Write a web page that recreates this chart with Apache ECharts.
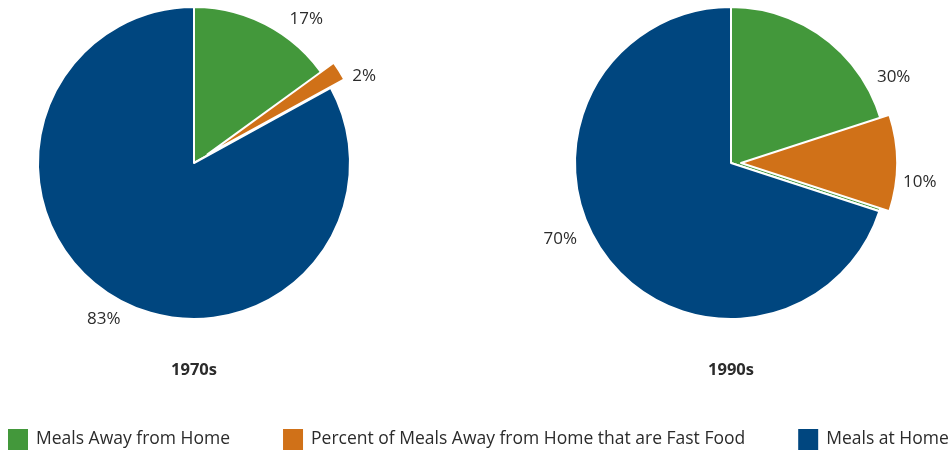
<!DOCTYPE html>
<html>
<head>
<meta charset="utf-8">
<script src="https://cdn.jsdelivr.net/npm/echarts@6/dist/echarts.min.js"></script>
<style>
html, body { margin: 0; padding: 0; background: #fff; }
#chart { width: 951px; height: 451px; }
</style>
</head>
<body>
<div id="chart"></div>
<script>
var decades = ['1970s', '1990s'];
var seriesNames = ['Meals Away from Home', 'Percent of Meals Away from Home that are Fast Food', 'Meals at Home'];
var awayFromHome = [17, 30];
var fastFood = [2, 10];
var atHome = [83, 70];

var colors = ['#43983b', '#d07118', '#00467f'];
var font = '"Open Sans", sans-serif';

// small label nudges (by data index) so the text sits where the original put it
var mainShift = [
    [[-1, 1], [23, 12]],
    [[-1, 13], [-7, -23]]
];
var fastShift = [[-8, 12], [-17, 19]];

function nudge(shifts) {
    return function (params) {
        var d = shifts[params.dataIndex] || [0, 0];
        return { dx: d[0], dy: d[1] };
    };
}

function buildOption() {
    var centersX = [194, 731];
    var offsets = [16, 10];
    var cy = 163;
    var r = 156;
    var series = [];
    var titles = [];

    var baseLabel = {
        show: true,
        position: 'outside',
        formatter: '{c}%',
        color: '#2b2b2b',
        fontSize: 17,
        fontFamily: font,
        overflow: 'none'
    };
    var hidden = { color: 'transparent', borderWidth: 0 };

    decades.forEach(function (d, i) {
        series.push({
            type: 'pie',
            name: d,
            center: [centersX[i], cy],
            radius: r,
            startAngle: 90,
            silent: true,
            animation: false,
            itemStyle: { borderColor: '#fff', borderWidth: 2 },
            label: baseLabel,
            labelLine: { show: false, length: 12, length2: 6 },
            labelLayout: nudge(mainShift[i]),
            data: [
                { name: seriesNames[0], value: awayFromHome[i], itemStyle: { color: colors[0] } },
                { name: seriesNames[2], value: atHome[i], itemStyle: { color: colors[2] } }
            ]
        });
        // fast food share sits on top of the green slice, pulled out
        series.push({
            type: 'pie',
            name: d + ' fast food',
            center: [centersX[i], cy],
            radius: r,
            startAngle: 90,
            silent: true,
            animation: false,
            selectedMode: 'single',
            selectedOffset: offsets[i],
            itemStyle: { borderColor: '#fff', borderWidth: 2 },
            label: baseLabel,
            labelLine: { show: false, length: 12, length2: 6 },
            labelLayout: nudge([null, fastShift[i], null]),
            select: { itemStyle: { color: colors[1], borderColor: '#fff', borderWidth: 2 } },
            data: [
                { name: 'a', value: awayFromHome[i] - fastFood[i], itemStyle: hidden, label: { show: false } },
                { name: seriesNames[1], value: fastFood[i], selected: true, itemStyle: { color: colors[1] } },
                { name: 'b', value: atHome[i], itemStyle: hidden, label: { show: false } }
            ]
        });
        titles.push({
            text: d,
            left: centersX[i] - 5,
            top: 357,
            textAlign: 'center',
            textStyle: { fontSize: 16.5, fontWeight: 'bold', color: '#2b2b2b', fontFamily: font }
        });
    });

    return {
        backgroundColor: '#fff',
        animation: false,
        color: colors,
        title: titles,
        legend: {
            data: seriesNames,
            left: 6,
            bottom: -1,
            width: 951,
            padding: 0,
            icon: 'rect',
            itemWidth: 22,
            itemHeight: 23,
            itemGap: 51,
            selectedMode: false,
            textStyle: { fontSize: 17.5, color: '#2b2b2b', fontFamily: font, padding: [0, 0, 0, 2] }
        },
        series: series
    };
}

var myChart = echarts.init(document.getElementById('chart'));
myChart.setOption(buildOption());
</script>
</body>
</html>
